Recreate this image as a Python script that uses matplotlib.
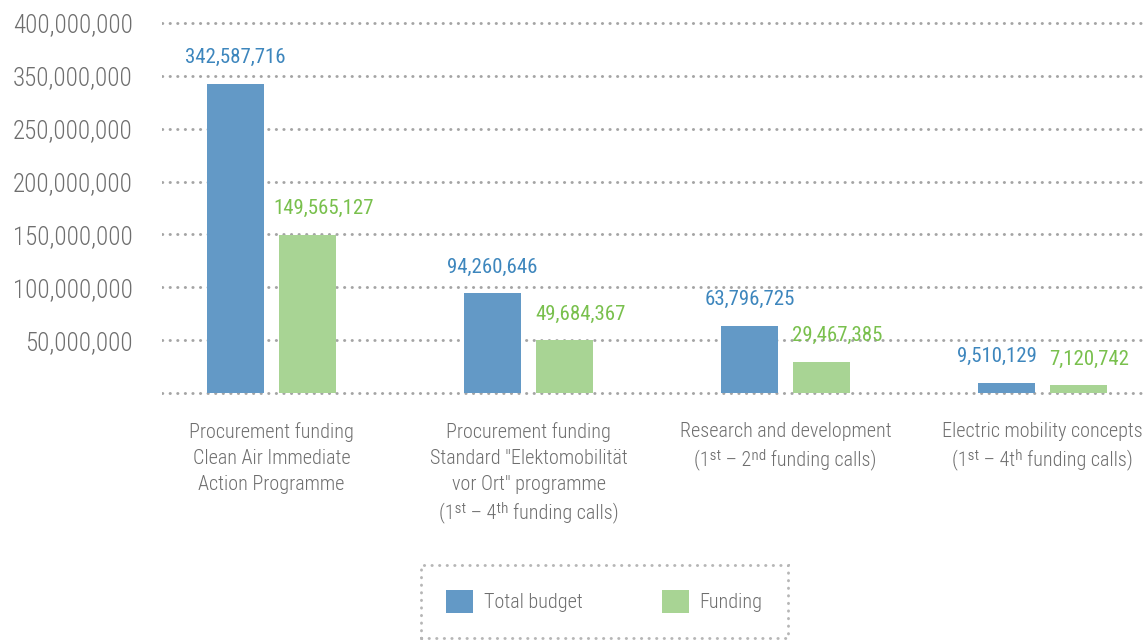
#! /usr/bin/env python

# Budget and funding per programme, bars with value labels

import numpy as np
import matplotlib
matplotlib.use('Agg')
import matplotlib.pyplot as plt
from matplotlib import font_manager as fm
from matplotlib.ticker import FixedLocator, FuncFormatter

categorias = [
    'Procurement funding\nClean Air Immediate\nAction Programme',
    'Procurement funding\nStandard "Elektomobilität\nvor Ort" programme\n(1ˢᵗ – 4ᵗʰ funding calls)',
    'Research and development\n(1ˢᵗ – 2ⁿᵈ funding calls)',
    'Electric mobility concepts\n(1ˢᵗ – 4tʰ funding calls)',
]
total_budget = [342587716, 94260646, 63796725, 9510129]
funding = [149565127, 49684367, 29467385, 7120742]
ticks_y = [0, 50e6, 100e6, 150e6, 200e6, 250e6, 350e6, 400e6]

azul = '#6399c6'
verde = '#a8d494'
azul_txt = '#3d86bd'
verde_txt = '#79c04d'
gris_txt = '#6e6e6e'
gris_linea = '#a4a4a4'

# fuente condensada, la primera que exista
candidatas = ['Roboto Condensed', 'Archivo Narrow', 'Barlow Semi Condensed',
              'Liberation Sans Narrow', 'DejaVu Sans']
disponibles = {f.name for f in fm.fontManager.ttflist}
fuente = next(c for c in candidatas if c in disponibles or c == 'DejaVu Sans')

plt.rcParams['font.family'] = [fuente, 'DejaVu Sans']

# eje partido: se salta el tramo 250M - 300M
def adelante(y):
    y = np.asarray(y, dtype=float)
    return np.where(y <= 250e6, y, np.where(y >= 300e6, y - 50e6, 250e6))

def atras(v):
    v = np.asarray(v, dtype=float)
    return np.where(v <= 250e6, v, v + 50e6)

fig = plt.figure(figsize=(11.46, 6.44), dpi=100)
ax = fig.add_axes([162 / 1146, (644 - 396) / 644, 984 / 1146, 376 / 644])
ax.set_yscale('function', functions=(adelante, atras))

x = np.arange(len(categorias))
ancho = 57 / 257
desp = 36 / 257
b1 = ax.bar(x - desp, total_budget, ancho, color=azul, label='Total budget', zorder=2)
b2 = ax.bar(x + desp, funding, ancho, color=verde, label='Funding', zorder=2)

ax.set_xlim((162 - 271.5) / 257, (1146 - 271.5) / 257)
ax.set_ylim(-2.84e6, 402.84e6)

ax.yaxis.set_major_locator(FixedLocator(ticks_y))
ax.yaxis.set_minor_locator(FixedLocator([]))
ax.yaxis.set_major_formatter(FuncFormatter(lambda v, p: '' if v == 0 else f'{v:,.0f}'))
ax.yaxis.grid(True, color=gris_linea, linewidth=2.1, linestyle=(0, (0.1, 2.5)),
              dash_capstyle='round')
ax.set_axisbelow(True)
for s in ax.spines.values():
    s.set_visible(False)
ax.tick_params(axis='y', length=0, pad=21, labelsize=18, labelcolor=gris_txt)
ax.tick_params(axis='x', length=0, pad=18.5, labelsize=14.5, labelcolor=gris_txt)
ax.set_xticks(x)
ax.set_xticklabels(categorias, linespacing=1.47, va='top')
for lbl in ax.get_yticklabels() + ax.get_xticklabels():
    lbl.set_fontweight('light')

# etiquetas de valores
desp_azul = [0, 0, 0, -7]
desp_verde = [11.5, 11.5, 11, 8]
for i in range(len(categorias)):
    ax.annotate(f'{total_budget[i]:,}', (x[i] - desp, total_budget[i]),
                xytext=(desp_azul[i], 12), textcoords='offset points',
                ha='center', va='bottom', fontsize=15, color=azul_txt)
    ax.annotate(f'{funding[i]:,}', (x[i] + desp, funding[i]),
                xytext=(desp_verde[i], 12), textcoords='offset points',
                ha='center', va='bottom', fontsize=15, color=verde_txt)

leg = fig.legend(handles=[b1, b2], loc='upper left',
                 bbox_to_anchor=(421 / 1146, 1 - 565 / 644), borderaxespad=0,
                 ncol=2, fontsize=14.5, frameon=True, fancybox=False,
                 handlelength=1.34, handleheight=1.34, handletextpad=0.55,
                 columnspacing=3.9, borderpad=1.25, labelcolor=gris_txt)
for t in leg.get_texts():
    t.set_fontweight('light')
marco = leg.get_frame()
marco.set_edgecolor(gris_linea)
marco.set_linewidth(2.1)
marco.set_linestyle((0, (0.1, 2.5)))
marco.set_capstyle('round')

fig.savefig('out.png', dpi=100)
